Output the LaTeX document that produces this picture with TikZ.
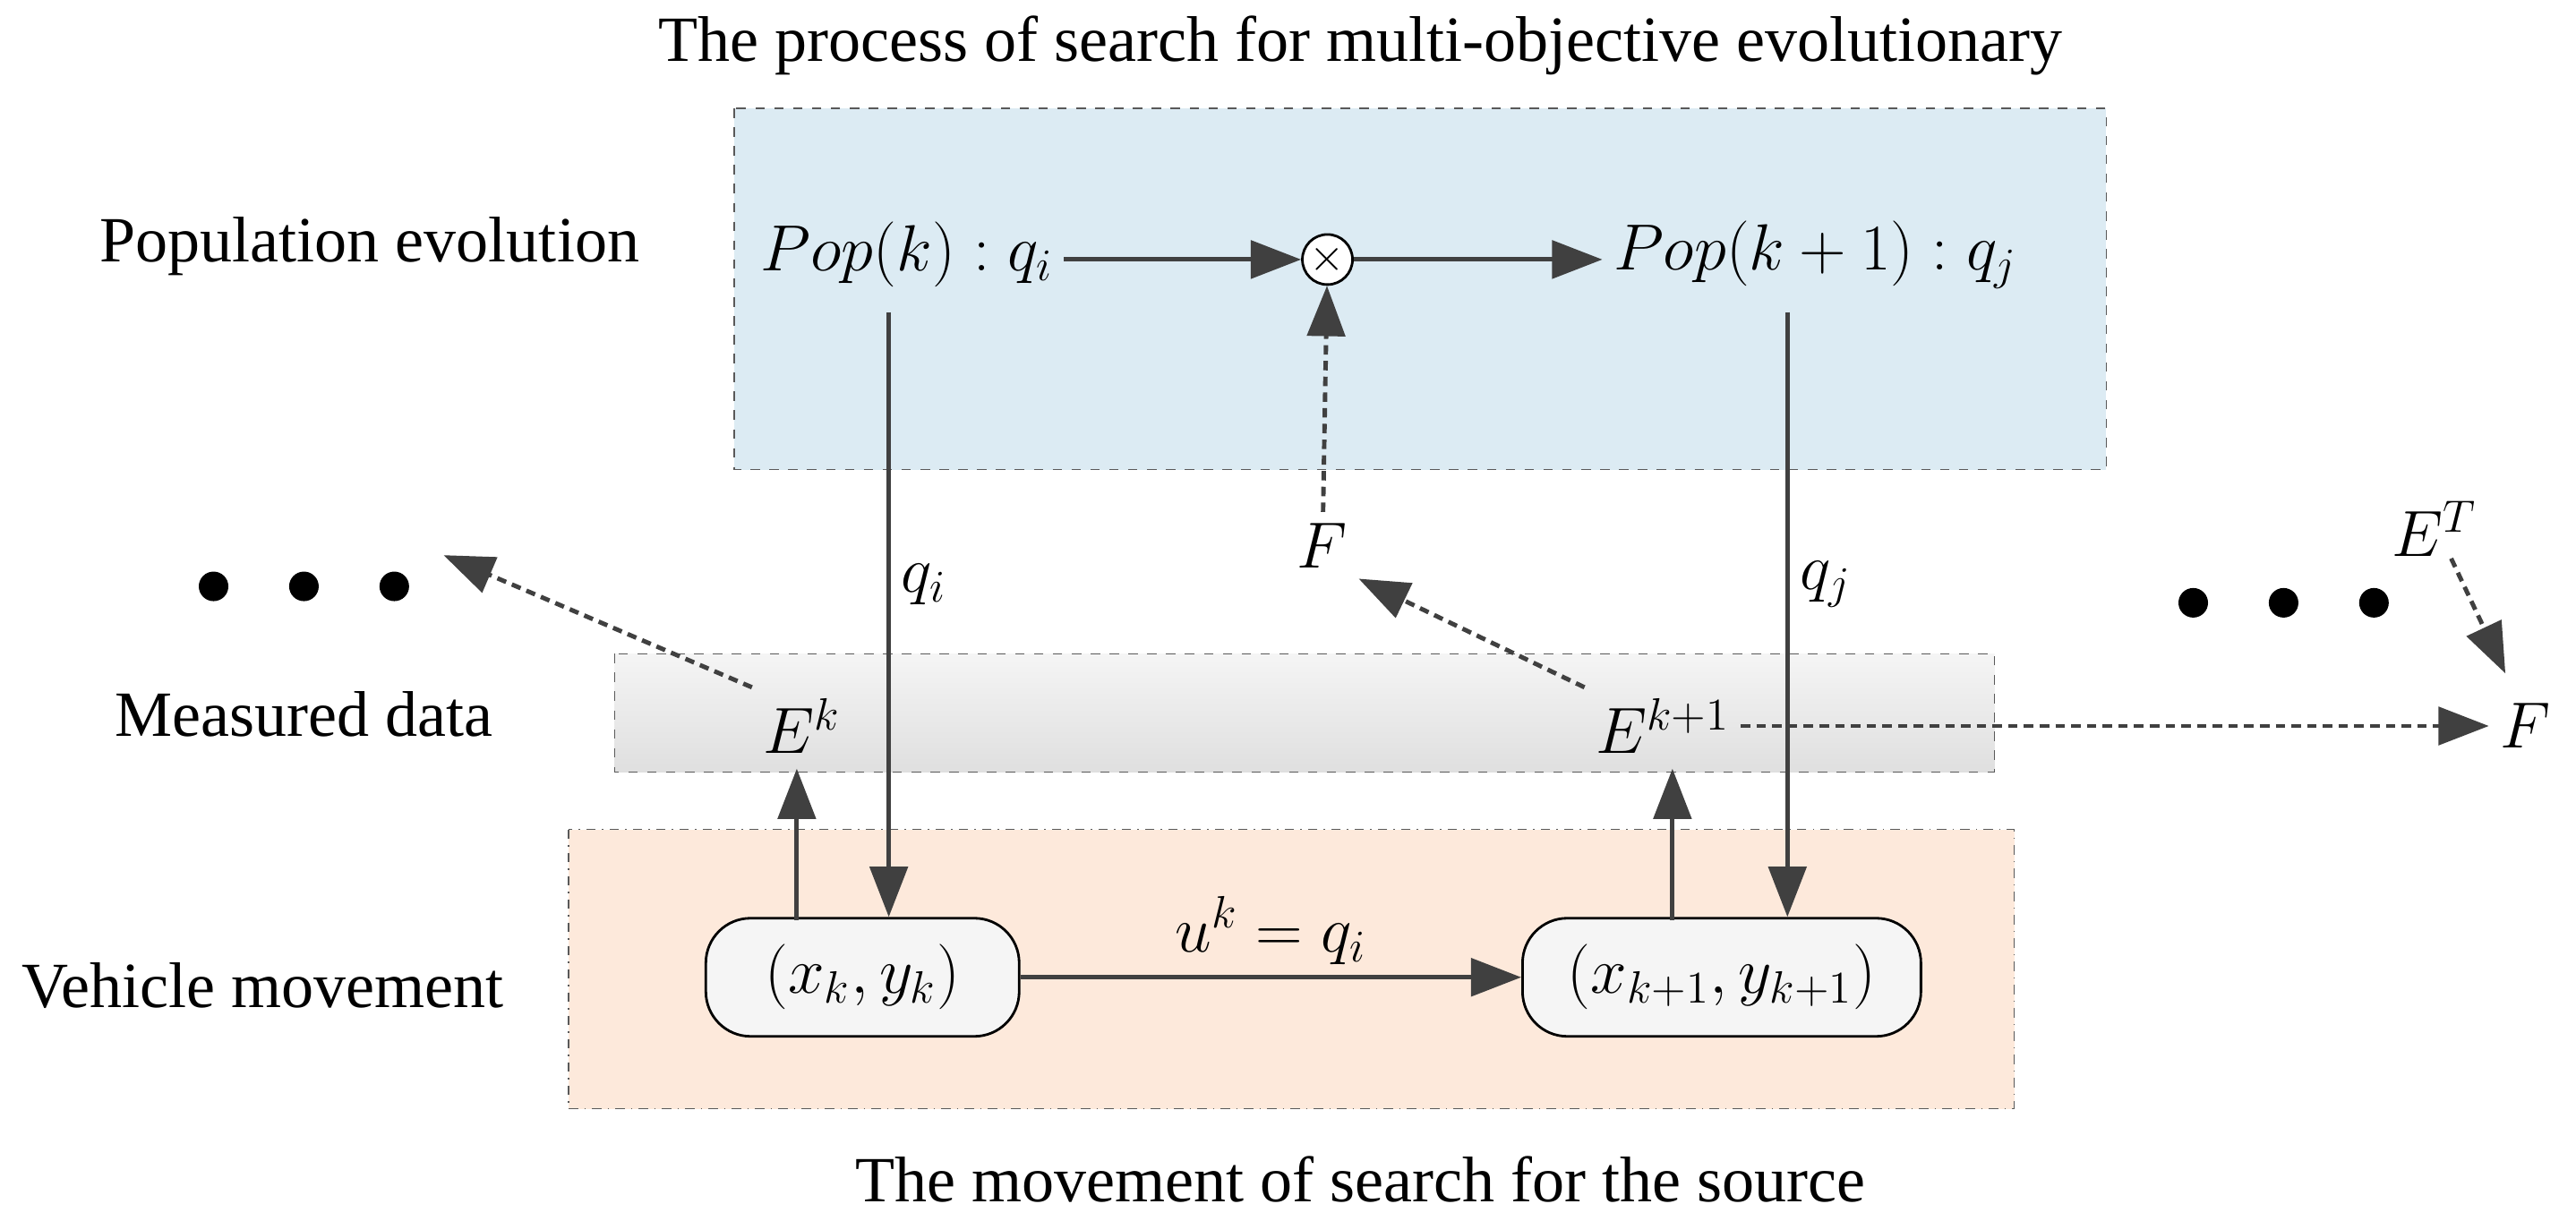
\documentclass[tikz,border=0pt]{standalone}
\usepackage{fontspec}
\setmainfont{Liberation Serif}
\usepackage{amsmath}
\usetikzlibrary{arrows.meta, positioning, shapes}
\definecolor{popblue}{HTML}{DCEBF3}
\definecolor{moveorange}{HTML}{FDE9DB}
\definecolor{linegray}{HTML}{404040}
\tikzset{
    lbl/.style={font=\fontsize{20.5}{24}\selectfont},
    mth/.style={font=\fontsize{22}{26}\selectfont},
    arr/.style={-{Triangle[length=16pt,width=12pt]}, line width=1.4pt, draw=linegray},
    darr/.style={arr, densely dashed},
    state/.style={rounded corners=5mm, draw, fill=gray!8, line width=0.8pt, minimum height=13.2mm, mth}
}
\begin{document}
\begin{tikzpicture}[x=0.1835mm, y=-0.1835mm]
\useasboundingbox (0,0) rectangle (1568,743);

% Boxes
\draw[dashed, fill=popblue, draw=gray!70!black] (447,66) rectangle (1282,286);
\draw[dashed, top color=gray!8, bottom color=gray!25, draw=gray!70!black] (374,398) rectangle (1214,470);
\draw[dash dot, fill=moveorange, draw=gray!70!black] (346,505) rectangle (1226,675);

% Labels
\node[lbl] (title) at (828,28) {The process of search for multi-objective evolutionary};
\node[lbl] (popev) at (225,150) {Population evolution};
\node[lbl] (meas) at (185,435) {Measured data};
\node[lbl] (vehmv) at (160,600) {Vehicle movement};
\node[lbl] (bottom) at (828,718) {The movement of search for the source};

% Nodes
\node[mth] (popk) at (552,155) {$Pop(k):q_i$};
\node[circle, draw, fill=white, minimum size=5.6mm, inner sep=0pt, line width=0.8pt] (mix) at (808,158) {\Large$\times$};
\node[mth] (popk1) at (1105,155) {$Pop(k+1):q_j$};
\node[mth] (F1) at (805,332) {$F$};
\node[mth] (Ek) at (488,442) {$E^k$};
\node[mth] (Ek1) at (1012,442) {$E^{k+1}$};
\node[mth] (F2) at (1537,442) {$F$};
\node[mth] (ET) at (1482,322) {$E^T$};
\node[state, minimum width=35mm] (xk) at (525,595) {$(x_k,y_k)$};
\node[state, minimum width=44.5mm] (xk1) at (1048,595) {$(x_{k+1},y_{k+1})$};
\coordinate (ldots) at (270,338);
\coordinate (qi) at (541,190);
\coordinate (qj) at (1088,190);
\coordinate (ETs) at (1492,340);
\coordinate (ET1) at (1525,410);

% Dots
\foreach \x in {130,185,240} \fill (\x,357) circle (9);
\foreach \x in {1335,1390,1445} \fill (\x,367) circle (9);

% Flow
\draw[arr] (popk.east |- mix) -- (mix);
\draw[arr] (mix) -- (popk1.west |- mix);
\draw[darr] (F1) -- (mix);
\draw[arr] (qi) -- node[mth, right, pos=0.45] {$q_i$} (qi |- xk.north);
\draw[arr] (qj) -- node[mth, right, pos=0.45] {$q_j$} (qj |- xk1.north);
\draw[arr] (xk) -- node[mth, above] {$u^k=q_i$} (xk1);
\draw[arr] (485,560) -- (485,468);
\draw[arr] (1018,560) -- (1018,468);
\draw[darr] (Ek.north west) -- (ldots);
\draw[darr] (Ek1.north west) -- (F1.south east);
\draw[darr] (Ek1.east) -- (F2.west);
\draw[darr] (ETs) -- (ET1);

\end{tikzpicture}
\end{document}
